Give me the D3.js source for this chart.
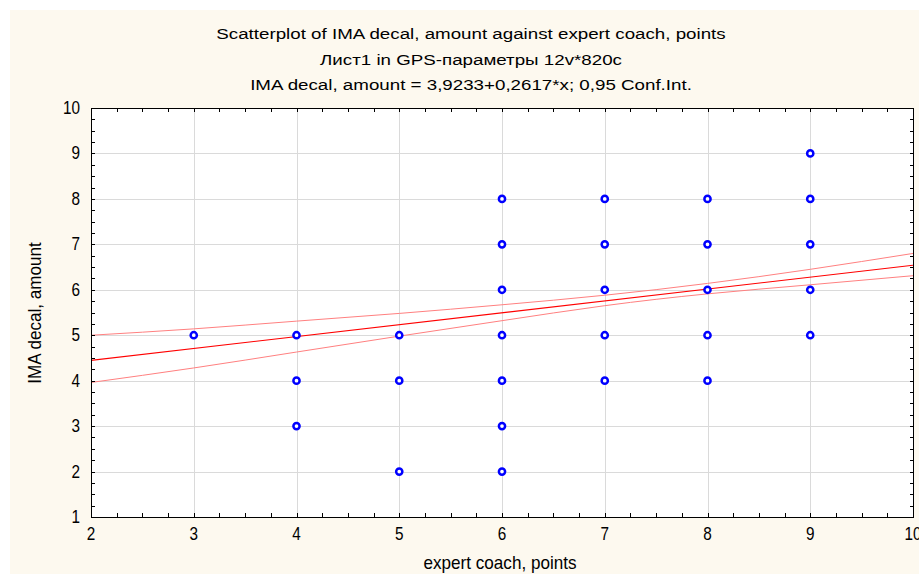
<!DOCTYPE html>
<html>
<head>
<meta charset="utf-8">
<script src="https://cdn.jsdelivr.net/npm/d3@7"></script>
<style>
  body { margin: 0; background: #ffffff; }
  text { font-family: "Liberation Sans", Arial, sans-serif; fill: #000; }
</style>
</head>
<body>
<script>
// ---------------- data ----------------
var titleLines = [
  "Scatterplot of IMA decal, amount against expert coach, points",
  "Лист1 in GPS-параметры 12v*820c",
  "IMA decal, amount = 3,9233+0,2617*x; 0,95 Conf.Int."
];
var xLabel = "expert coach, points";
var yLabel = "IMA decal, amount";

// observed points (coach score, IMA amount)
var pointX = [3, 4, 4, 4, 5, 5, 5, 6, 6, 6, 6, 6, 6, 6, 7, 7, 7, 7, 7, 8, 8, 8, 8, 8, 9, 9, 9, 9, 9];
var pointY = [5, 5, 4, 3, 5, 4, 2, 8, 7, 6, 5, 4, 3, 2, 8, 7, 6, 5, 4, 8, 7, 6, 5, 4, 9, 8, 7, 6, 5];

// regression line y = a + b*x
var intercept = 3.9233, slope = 0.2617;

// 0.95 confidence band, read at x = 2..10
var bandX = [2, 3, 4, 5, 6, 7, 8, 9, 10];
var bandUpper = [5.00, 5.14, 5.31, 5.48, 5.67, 5.88, 6.14, 6.45, 6.80];
var bandLower = [3.96, 4.28, 4.63, 4.98, 5.32, 5.65, 5.91, 6.11, 6.31];

var xTicks = [2, 3, 4, 5, 6, 7, 8, 9, 10];
var yTicks = [1, 2, 3, 4, 5, 6, 7, 8, 9, 10];

// ---------------- layout ----------------
var width = 919, height = 574;
var plotLeft = 91, plotRight = 913, plotTop = 108, plotBottom = 517;

var svg = d3.select("body").append("svg")
  .attr("width", width)
  .attr("height", height);

// cream panel
svg.append("rect")
  .attr("x", 10).attr("y", 10)
  .attr("width", width - 10).attr("height", height - 10)
  .attr("fill", "#fdf9ef");

var x = d3.scaleLinear().domain([2, 10]).range([plotLeft, plotRight]);
var y = d3.scaleLinear().domain([1, 10]).range([plotBottom, plotTop]);

// plot area
svg.append("rect")
  .attr("x", plotLeft).attr("y", plotTop)
  .attr("width", plotRight - plotLeft).attr("height", plotBottom - plotTop)
  .attr("fill", "#ffffff");

// grid
svg.append("g").selectAll("line")
  .data(xTicks.slice(1, -1))
  .enter().append("line")
  .attr("x1", function (d) { return Math.round(x(d)) + 0.5; })
  .attr("x2", function (d) { return Math.round(x(d)) + 0.5; })
  .attr("y1", plotTop).attr("y2", plotBottom)
  .attr("stroke", "#dadada").attr("stroke-width", 1);

svg.append("g").selectAll("line")
  .data(yTicks.slice(1, -1))
  .enter().append("line")
  .attr("y1", function (d) { return Math.round(y(d)) + 0.5; })
  .attr("y2", function (d) { return Math.round(y(d)) + 0.5; })
  .attr("x1", plotLeft).attr("x2", plotRight)
  .attr("stroke", "#dadada").attr("stroke-width", 1);

// regression line and confidence band
svg.append("clipPath").attr("id", "plotclip")
  .append("rect").attr("x", plotLeft).attr("y", plotTop)
  .attr("width", plotRight - plotLeft).attr("height", plotBottom - plotTop);

var lineGen = d3.line()
  .x(function (d) { return x(d[0]); })
  .y(function (d) { return y(d[1]); })
  .curve(d3.curveNatural);

var lines = svg.append("g").attr("clip-path", "url(#plotclip)");

lines.append("path")
  .attr("d", lineGen(bandX.map(function (v, i) { return [v, bandUpper[i]]; })))
  .attr("fill", "none").attr("stroke", "#ff8080").attr("stroke-width", 1);

lines.append("path")
  .attr("d", lineGen(bandX.map(function (v, i) { return [v, bandLower[i]]; })))
  .attr("fill", "none").attr("stroke", "#ff8080").attr("stroke-width", 1);

lines.append("line")
  .attr("x1", x(2)).attr("y1", y(intercept + slope * 2))
  .attr("x2", x(10)).attr("y2", y(intercept + slope * 10))
  .attr("stroke", "#ff0000").attr("stroke-width", 1.1);

// points
svg.append("g").selectAll("circle")
  .data(pointX.map(function (v, i) { return [v, pointY[i]]; }))
  .enter().append("circle")
  .attr("cx", function (d) { return x(d[0]); })
  .attr("cy", function (d) { return y(d[1]); })
  .attr("r", 3.1)
  .attr("fill", "#ffffff")
  .attr("stroke", "#0000ff")
  .attr("stroke-width", 2.5);

// frame
svg.append("rect")
  .attr("x", plotLeft + 0.5).attr("y", plotTop + 0.5)
  .attr("width", plotRight - plotLeft).attr("height", plotBottom - plotTop)
  .attr("fill", "none").attr("stroke", "#000").attr("stroke-width", 1);

// minor ticks on every side, pointing inward
var xMinor = d3.range(2, 10.001, 0.25);
var yMinor = d3.range(1, 10.001, 0.25);
var tickG = svg.append("g").attr("stroke", "#000").attr("stroke-width", 1);
xMinor.forEach(function (v) {
  var px = Math.round(x(v)) + 0.5;
  tickG.append("line").attr("x1", px).attr("x2", px).attr("y1", plotBottom).attr("y2", plotBottom - 4);
  tickG.append("line").attr("x1", px).attr("x2", px).attr("y1", plotTop).attr("y2", plotTop + 4);
});
yMinor.forEach(function (v) {
  var py = Math.round(y(v)) + 0.5;
  tickG.append("line").attr("y1", py).attr("y2", py).attr("x1", plotLeft).attr("x2", plotLeft + 4);
  tickG.append("line").attr("y1", py).attr("y2", py).attr("x1", plotRight + 1).attr("x2", plotRight - 3);
});

// tick labels (narrow, tall digits)
svg.append("g").selectAll("text")
  .data(xTicks)
  .enter().append("text")
  .attr("transform", function (d) { return "translate(" + x(d) + "," + (plotBottom + 23) + ") scale(0.85,1)"; })
  .attr("text-anchor", "middle")
  .style("font-size", "18px")
  .text(function (d) { return d; });

svg.append("g").selectAll("text")
  .data(yTicks)
  .enter().append("text")
  .attr("transform", function (d) { return "translate(" + (plotLeft - 11) + "," + (y(d) + 6) + ") scale(0.85,1)"; })
  .attr("text-anchor", "end")
  .style("font-size", "18px")
  .text(function (d) { return d; });

// axis titles
svg.append("text")
  .attr("transform", "translate(" + ((plotLeft + plotRight) / 2 - 2) + ",569) scale(0.95,1)")
  .attr("text-anchor", "middle")
  .style("font-size", "18px")
  .text(xLabel);

svg.append("text")
  .attr("transform", "translate(41,313) rotate(-90) scale(0.95,1)")
  .attr("text-anchor", "middle")
  .style("font-size", "18px")
  .text(yLabel);

// titles (wide rendering)
svg.append("g").selectAll("text")
  .data(titleLines)
  .enter().append("text")
  .attr("transform", function (d, i) { return "translate(471," + (39 + i * 25.5) + ") scale(1.25,1)"; })
  .attr("text-anchor", "middle")
  .style("font-size", "15px")
  .text(function (d) { return d; });
</script>
</body>
</html>
